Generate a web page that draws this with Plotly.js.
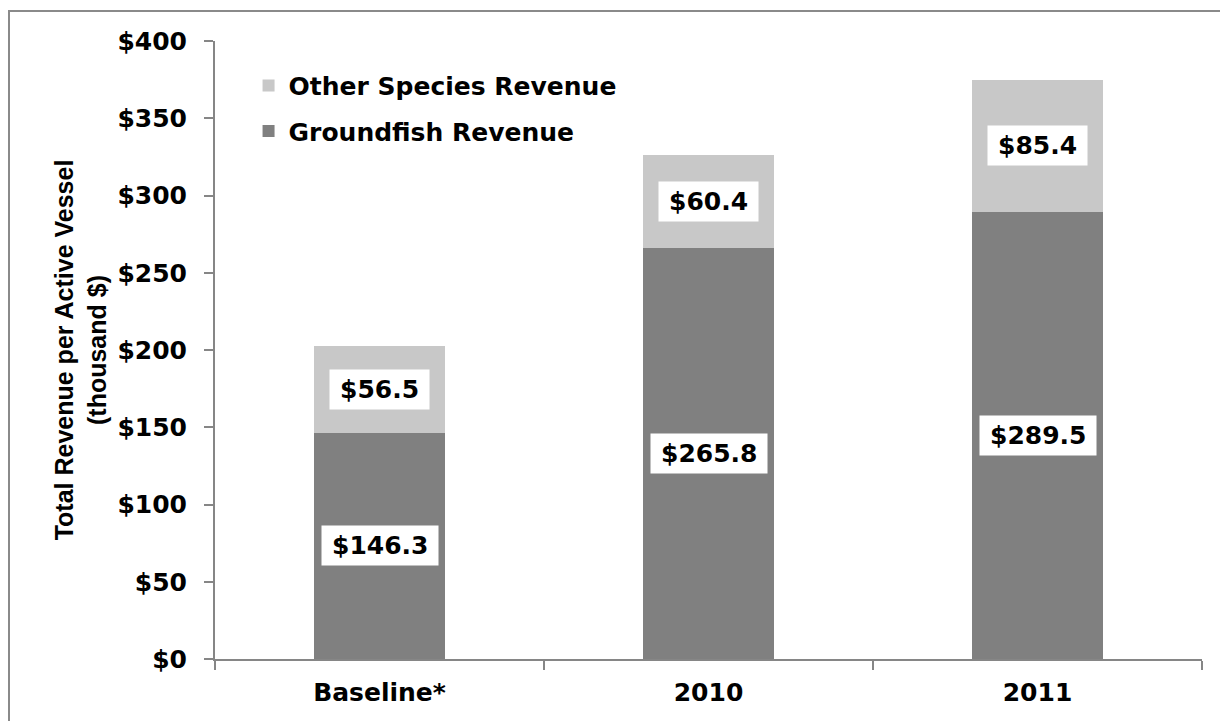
<!DOCTYPE html>
<html>
<head>
<meta charset="utf-8">
<script src="https://cdn.plot.ly/plotly-3.0.1.min.js"></script>
<style>
  html, body { margin: 0; padding: 0; overflow: hidden; background: #fff; }
  #chart { width: 1220px; height: 721px; }
  #frame { position: absolute; left: 8px; top: 10px; width: 1400px; height: 900px;
           border: 2px solid #8a8a8a; pointer-events: none; }
</style>
</head>
<body>
<div id="chart"></div>
<div id="frame"></div>
<script>
// ---- data ----
const categories = ["Baseline*", "2010", "2011"];
const groundfishRevenue = [146.3, 265.8, 289.5];
const otherSpeciesRevenue = [56.5, 60.4, 85.4];
const seriesNames = ["Groundfish Revenue", "Other Species Revenue"];
const yTickValues = [0, 50, 100, 150, 200, 250, 300, 350, 400];
const yTickLabels = ["$0", "$50", "$100", "$150", "$200", "$250", "$300", "$350", "$400"];

// ---- styling ----
const mainFont = { family: "DejaVu Sans, Verdana, sans-serif", size: 25, color: "#000", weight: 700 };
const axisGrey = "#868686";

const traces = [
  {
    type: "bar", name: seriesNames[0], x: categories, y: groundfishRevenue,
    marker: { color: "#808080", line: { width: 0 } },
    legendgroup: "g", legendrank: 2, hoverinfo: "y"
  },
  {
    type: "bar", name: seriesNames[1], x: categories, y: otherSpeciesRevenue,
    marker: { color: "#c8c8c8", line: { width: 0 } },
    legendgroup: "o", legendrank: 1, hoverinfo: "y"
  }
];

const pad = "\u2009";
const fmt = v => pad + "$" + v.toFixed(1) + pad;
const annotations = [];
categories.forEach((c, i) => {
  annotations.push({
    x: i, y: groundfishRevenue[i] / 2, xref: "x", yref: "y",
    text: fmt(groundfishRevenue[i]), showarrow: false,
    bgcolor: "#ffffff", borderpad: 5, font: mainFont
  });
  annotations.push({
    x: i, y: groundfishRevenue[i] + otherSpeciesRevenue[i] / 2, xref: "x", yref: "y",
    text: fmt(otherSpeciesRevenue[i]), showarrow: false,
    bgcolor: "#ffffff", borderpad: 5, font: mainFont
  });
});

const layout = {
  width: 1220, height: 721,
  margin: { l: 215, r: 18, t: 41, b: 62 },
  paper_bgcolor: "#ffffff", plot_bgcolor: "#ffffff",
  barmode: "stack", bargap: 0.6,
  font: mainFont,
  showlegend: true,
  legend: {
    x: 0.034, y: 0.965, xanchor: "left", yanchor: "top",
    traceorder: "grouped", tracegroupgap: 10,
    font: mainFont, bgcolor: "rgba(0,0,0,0)"
  },
  xaxis: {
    type: "category", range: [-0.5, 2.5],
    showline: true, linecolor: axisGrey, linewidth: 2,
    ticks: "outside", tickson: "boundaries", ticklen: 9, tickcolor: axisGrey, tickwidth: 2,
    ticklabelstandoff: 10, tickangle: 0,
    showgrid: false, zeroline: false,
    tickfont: mainFont
  },
  yaxis: {
    range: [0, 400], tickmode: "array", tickvals: yTickValues, ticktext: yTickLabels,
    showline: true, linecolor: axisGrey, linewidth: 2,
    ticks: "outside", ticklen: 9, tickcolor: axisGrey, tickwidth: 2,
    ticklabelstandoff: 12,
    showgrid: false, zeroline: false,
    tickfont: mainFont,
    title: {
      text: "Total Revenue per Active Vessel<br>(thousand $)",
      font: { family: "Liberation Sans, Arial, sans-serif", size: 25, color: "#000", weight: 700 },
      standoff: 4
    }
  },
  annotations: annotations
};

Plotly.newPlot("chart", traces, layout, { displayModeBar: false, staticPlot: true });
</script>
</body>
</html>
